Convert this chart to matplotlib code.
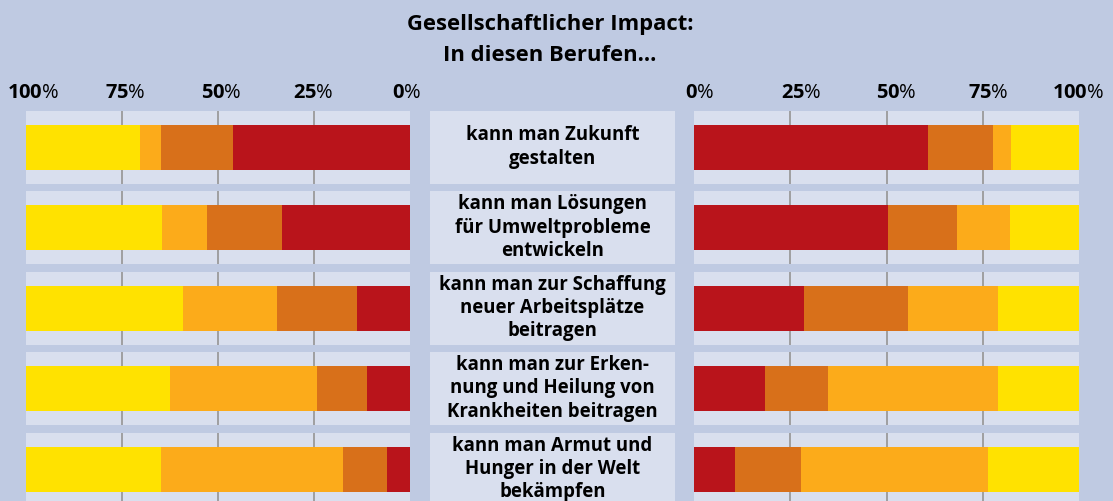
import matplotlib
matplotlib.use("Agg")
import matplotlib.pyplot as plt
import matplotlib.transforms as mtransforms
import numpy as np

plt.rcParams['font.family'] = ['Open Sans', 'DejaVu Sans']
plt.rcParams['mathtext.fontset'] = 'custom'
plt.rcParams['mathtext.rm'] = 'Open Sans'
plt.rcParams['mathtext.bf'] = 'Open Sans:bold'

# ---- data ----
title = "Gesellschaftlicher Impact:\nIn diesen Berufen…"
categories = [
    "kann man Zukunft\ngestalten",
    "kann man Lösungen\nfür Umweltprobleme\nentwickeln",
    "kann man zur Schaffung\nneuer Arbeitsplätze\nbeitragen",
    "kann man zur Erken-\nnung und Heilung von\nKrankheiten beitragen",
    "kann man Armut und\nHunger in der Welt\nbekämpfen",
]
# segment order: red, dark orange, orange, yellow (shares in %)
left_red = [46.1, 33.3, 13.8, 11.2, 6.0]
left_darkorange = [18.8, 19.5, 20.8, 13.0, 11.5]
left_orange = [5.5, 11.7, 24.5, 38.3, 47.4]
left_yellow = [29.6, 35.5, 40.9, 37.5, 35.1]

right_red = [60.8, 50.4, 28.6, 18.4, 10.6]
right_darkorange = [16.9, 17.9, 27.0, 16.4, 17.1]
right_orange = [4.7, 13.8, 23.4, 44.2, 48.6]
right_yellow = [17.6, 17.9, 21.0, 21.0, 23.7]

tick_values = [0, 25, 50, 75, 100]
tick_labels = [r"$\mathbf{0}$%", r"$\mathbf{25}$%", r"$\mathbf{50}$%", r"$\mathbf{75}$%", r"$\mathbf{100}$%"]

# ---- styles ----
BG = "#BFCAE2"
BAND = "#D9DFEE"
COLORS = ["#B9141B", "#D8701A", "#FCAB1A", "#FFE200"]
GRID = "#9A9A9A"
LEFT_LABEL_SHIFT_PX = [-3, -1, 3, 3, 7]
RIGHT_LABEL_SHIFT_PX = [6, 11, 10, 6, -1]

W, H = 1113, 501
fig = plt.figure(figsize=(W / 100, H / 100), dpi=100)
fig.patch.set_facecolor(BG)

top_px = 106
row0_px = 147
pitch_px = 80.5
y_top = -(row0_px - top_px) / pitch_px
y_bot = (H - row0_px) / pitch_px
band_h = 73 / pitch_px
bar_h = 45 / pitch_px

def fig_rect(x0, x1):
    return [x0 / W, 0, (x1 - x0) / W, (H - top_px) / H]

y = np.arange(len(categories))

def draw_panel(ax, segs, invert, shifts):
    ax.set_facecolor("none")
    ax.set_xlim(100, 0) if invert else ax.set_xlim(0, 100)
    ax.set_ylim(y_bot, y_top)
    ax.barh(y, 100, height=band_h, left=0, color=BAND, zorder=0)
    for yi in y:
        ax.vlines([25, 50, 75], yi - band_h / 2, yi + band_h / 2, color=GRID, lw=1.3, zorder=1)
    left = np.zeros(len(y))
    for vals, c in zip(segs, COLORS):
        v = np.array(vals)
        ax.barh(y, v, height=bar_h, left=left, color=c, zorder=2, linewidth=0)
        left += v
    ax.axis("off")
    blend = mtransforms.blended_transform_factory(ax.transData, fig.transFigure)
    for val, lab, sh in zip(tick_values, tick_labels, shifts):
        tr = blend + mtransforms.ScaledTranslation(sh / 100, 0, fig.dpi_scale_trans)
        ax.text(val, 1 - 98 / H, lab, transform=tr, ha="center", va="baseline",
                fontsize=14.5, color="black", clip_on=False)

axL = fig.add_axes(fig_rect(26, 410))
draw_panel(axL, [left_red, left_darkorange, left_orange, left_yellow], True, LEFT_LABEL_SHIFT_PX)
axR = fig.add_axes(fig_rect(694, 1079))
draw_panel(axR, [right_red, right_darkorange, right_orange, right_yellow], False, RIGHT_LABEL_SHIFT_PX)

axM = fig.add_axes(fig_rect(430, 675))
axM.set_facecolor("none")
axM.set_xlim(0, 1)
axM.set_ylim(y_bot, y_top)
axM.barh(y, 1, height=band_h, left=0, color=BAND, zorder=0)
for yi, lab in zip(y, categories):
    axM.text(0.5, yi, lab, ha="center", va="center", fontsize=13.4,
             fontweight="bold", linespacing=1.22, zorder=3)
axM.axis("off")

fig.text(550 / W, 1 - 40 / H, title, ha="center", va="center", fontsize=15.8,
         fontweight="bold", linespacing=1.6)

fig.savefig("out.png", dpi=100, facecolor=BG)
